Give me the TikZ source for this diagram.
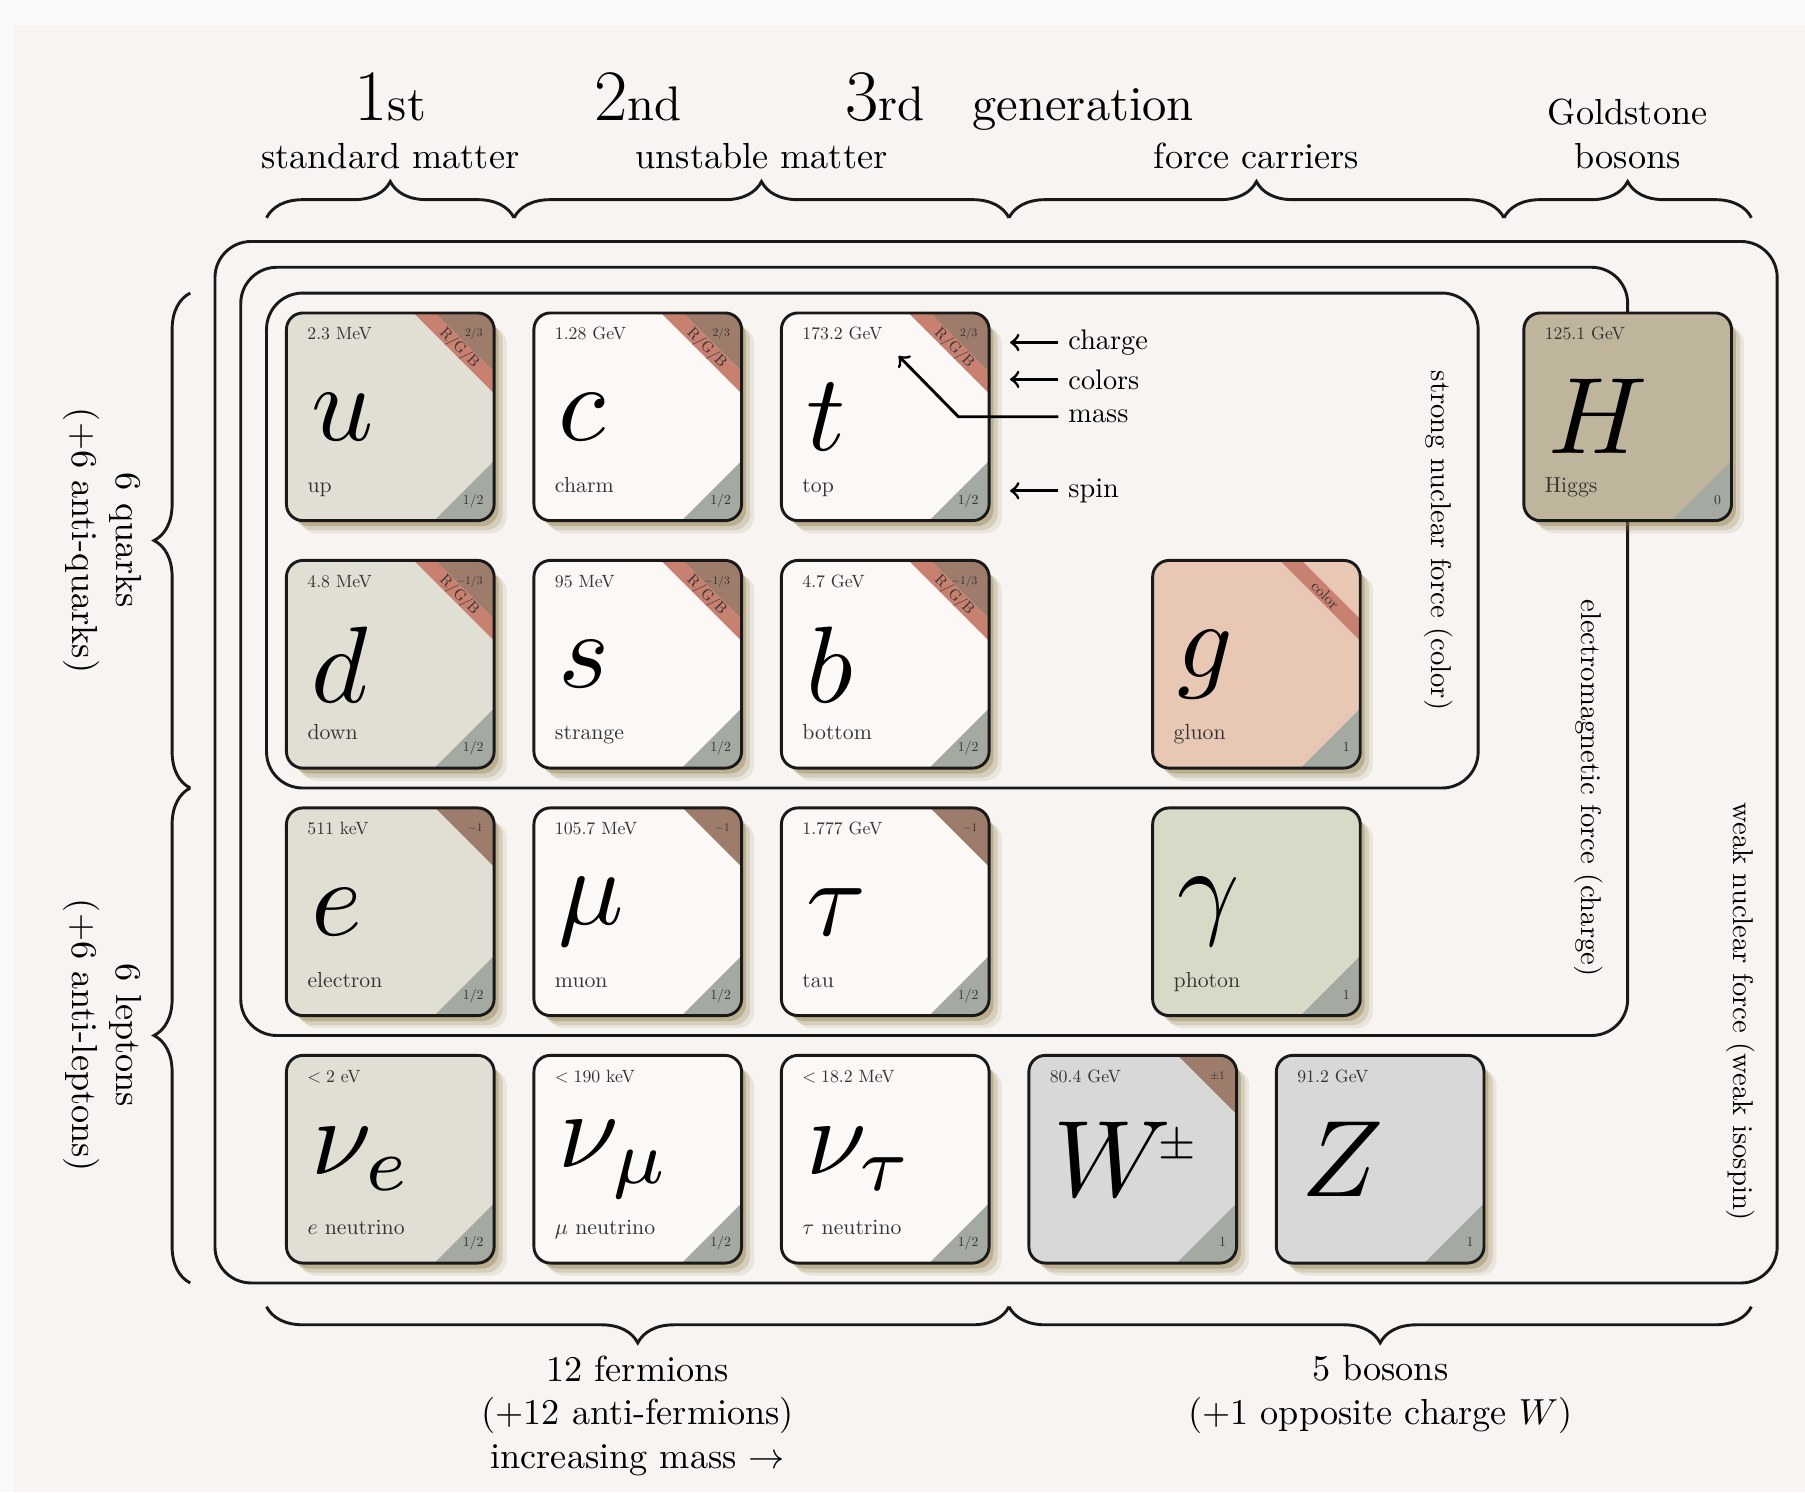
\documentclass[tikz,border=0pt]{standalone}
\usepackage{amsmath,amssymb,graphicx}
\usetikzlibrary{calc,shadows,decorations.pathreplacing}
\definecolor{pagebg}{RGB}{251,249,247}
\definecolor{picbg}{RGB}{247,244,242}
\definecolor{genone}{RGB}{225,222,212}
\definecolor{genrest}{RGB}{251,248,246}
\definecolor{gluoncol}{RGB}{232,200,180}
\definecolor{photoncol}{RGB}{216,218,200}
\definecolor{weakcol}{RGB}{216,216,216}
\definecolor{higgscol}{RGB}{191,180,156}
\definecolor{chargecol}{RGB}{157,124,108}
\definecolor{colorcol}{RGB}{200,128,112}
\definecolor{spincol}{RGB}{164,170,162}
\definecolor{shadowcol}{RGB}{140,118,64}
\newcommand{\gennum}[1]{{\fontsize{20}{24}\selectfont #1}}
\newcommand{\genord}[1]{\scalebox{1.34}{\normalsize #1}}
\tikzset{
  card/.style={rectangle,minimum size=2cm,inner sep=0pt,rounded corners=1.6mm,
    general shadow={fill=shadowcol,opacity=0.12,shadow xshift=1.3mm,shadow yshift=-1.3mm},
    general shadow={fill=shadowcol,opacity=0.2,shadow xshift=0.9mm,shadow yshift=-1mm},
    general shadow={fill=shadowcol,opacity=0.35,shadow xshift=0.5mm,shadow yshift=-0.6mm}},
  cardedge/.style={draw=black!90,line width=0.8pt,rounded corners=1.6mm},
  masslab/.style={anchor=base west,inner sep=0pt,scale=0.49,text=black!80},
  namelab/.style={anchor=base west,inner sep=0pt,scale=0.6,text=black!80},
  spinlab/.style={anchor=base east,inner sep=0pt,scale=0.38,text=black!80},
  chargelab/.style={anchor=base east,inner sep=0pt,scale=0.32,text=black!80},
  colorlab/.style={inner sep=0pt,rotate=-45,scale=0.42,text=black!80},
  symb/.style={anchor=west,inner sep=0pt,scale=3},
  forcebox/.style={draw=black!90,line width=0.8pt,rounded corners=3.5mm},
  brc/.style={decorate,decoration={brace,amplitude=10pt},draw=black!90,line width=0.8pt},
  lab/.style={align=center},
  forcelab/.style={rotate=-90,scale=0.79},
  note/.style={anchor=west,scale=0.78},
  gen/.style={anchor=base,inner sep=0pt},
}
\newcommand{\particle}[8]{%
  \node[card,fill=#4] (#1) at (#2,#3) {};
  \begin{scope}
    \clip[rounded corners=1.6mm] (#1.south west) rectangle (#1.north east);
    \fill[spincol] (#1.south east) -- ++(-0.58,0) -- ++(0.58,0.58) -- cycle;
  \end{scope}
  \node[masslab] (#1-mass) at ($(#1.north west)+(0.2,-0.26)$) {#5};
  \node[symb] (#1-sym) at ($(#1.west)+(0.22,0)$) {$#6$};
  \node[namelab] (#1-name) at ($(#1.south west)+(0.2,0.275)$) {#7};
  \node[spinlab] (#1-spin) at ($(#1.south east)+(-0.1,0.16)$) {#8};
}
\newcommand{\chargecorner}[2]{%
  \begin{scope}
    \clip[rounded corners=1.6mm] (#1.south west) rectangle (#1.north east);
    \fill[chargecol] (#1.north east) -- ++(-0.57,0) -- ++(0.57,-0.57) -- cycle;
  \end{scope}
  \node[chargelab] (#1-charge) at ($(#1.north east)+(-0.11,-0.23)$) {#2};
}
\newcommand{\colorband}[2]{%
  \begin{scope}
    \clip[rounded corners=1.6mm] (#1.south west) rectangle (#1.north east);
    \fill[colorcol] ($(#1.north east)+(-0.78,0)$) -- ++(0.21,0) -- ++(0.57,-0.57) -- ++(0,-0.21) -- cycle;
  \end{scope}
  \node[colorlab] (#1-colors) at ($(#1.north east)+(-0.34,-0.34)$) {#2};
}

\begin{document}
\begin{tikzpicture}
  \fill[pagebg] (-3.785,4.042) rectangle (13.72,-10.43);
  \useasboundingbox (-3.785,4.042) rectangle (13.72,-10.43);
  \fill[picbg] (-3.65,3.80) rectangle (13.72,-10.43);

  \draw[forcebox] (-1.7,1.7) rectangle (13.45,-8.4);
  \draw[forcebox] (-1.45,1.45) rectangle (12,-6);
  \draw[forcebox] (-1.2,1.2) rectangle (10.55,-3.6);

  \draw[brc] (-1.2,1.93) -- (1.2,1.93);
  \draw[brc] (1.2,1.93) -- (6.0,1.93);
  \draw[brc] (6.0,1.93) -- (10.8,1.93);
  \draw[brc] (10.8,1.93) -- (13.2,1.93);
  \draw[brc] (-1.94,-3.6) -- (-1.94,1.2);
  \draw[brc] (-1.94,-8.4) -- (-1.94,-3.6);
  \draw[brc] (6.0,-8.63) -- (-1.2,-8.63);
  \draw[brc] (13.2,-8.63) -- (6.0,-8.63);

  \node[gen] (gen-1) at (0,2.87) {\gennum{1}\genord{st}};
  \node[gen] (gen-2) at (2.4,2.87) {\gennum{2}\genord{nd}};
  \node[gen] (gen-3) at (4.8,2.87) {\gennum{3}\genord{rd}};
  \node[gen,anchor=base west] (gen-word) at (5.64,2.87) {\genord{generation}};

  \node[lab,anchor=south] (std-lab) at (0,2.28) {standard matter};
  \node[lab,anchor=south] (unst-lab) at (3.6,2.28) {unstable matter};
  \node[lab,anchor=south] (force-lab) at (8.4,2.28) {force carriers};
  \node[lab,anchor=south] (gold-lab) at (12,2.28) {Goldstone\\bosons};
  \node[lab,rotate=-90,anchor=north] (quark-lab) at (-2.29,-1.2) {6 quarks\\(+6 anti-quarks)};
  \node[lab,rotate=-90,anchor=north] (lepton-lab) at (-2.29,-6.0) {6 leptons\\(+6 anti-leptons)};
  \node[lab,anchor=north] (ferm-lab) at (2.4,-8.98) {12 fermions\\(+12 anti-fermions)\\increasing mass $\to$};
  \node[lab,anchor=north] (boson-lab) at (9.6,-8.98) {5 bosons\\(+1 opposite charge $W$)};

  \node[forcelab] (strong-lab) at (10.17,-1.2) {strong nuclear force (color)};
  \node[forcelab] (em-lab) at (11.62,-3.6) {electromagnetic force (charge)};
  \node[forcelab] (weak-lab) at (13.1,-5.77) {weak nuclear force (weak isospin)};

  \particle{u}{0}{0}{genone}{2.3 MeV}{u}{up}{1/2}
  \chargecorner{u}{2/3}
  \colorband{u}{R/G/B}
  \particle{c}{2.4}{0}{genrest}{1.28 GeV}{c}{charm}{1/2}
  \chargecorner{c}{2/3}
  \colorband{c}{R/G/B}
  \particle{t}{4.8}{0}{genrest}{173.2 GeV}{t}{top}{1/2}
  \chargecorner{t}{2/3}
  \colorband{t}{R/G/B}
  \particle{H}{12}{0}{higgscol}{125.1 GeV}{H}{Higgs}{0}

  \particle{d}{0}{-2.4}{genone}{4.8 MeV}{d}{down}{1/2}
  \chargecorner{d}{$-1/3$}
  \colorband{d}{R/G/B}
  \particle{s}{2.4}{-2.4}{genrest}{95 MeV}{s}{strange}{1/2}
  \chargecorner{s}{$-1/3$}
  \colorband{s}{R/G/B}
  \particle{b}{4.8}{-2.4}{genrest}{4.7 GeV}{b}{bottom}{1/2}
  \chargecorner{b}{$-1/3$}
  \colorband{b}{R/G/B}
  \particle{g}{8.4}{-2.4}{gluoncol}{}{g}{gluon}{1}
  \colorband{g}{color}

  \particle{e}{0}{-4.8}{genone}{511 keV}{e}{electron}{1/2}
  \chargecorner{e}{$-1$}
  \particle{mu}{2.4}{-4.8}{genrest}{105.7 MeV}{\mu}{muon}{1/2}
  \chargecorner{mu}{$-1$}
  \particle{tau}{4.8}{-4.8}{genrest}{1.777 GeV}{\tau}{tau}{1/2}
  \chargecorner{tau}{$-1$}
  \particle{gamma}{8.4}{-4.8}{photoncol}{}{\gamma}{photon}{1}

  \particle{nue}{0}{-7.2}{genone}{$<2$ eV}{\nu_e}{$e$ neutrino}{1/2}
  \particle{numu}{2.4}{-7.2}{genrest}{$<190$ keV}{\nu_\mu}{$\mu$ neutrino}{1/2}
  \particle{nutau}{4.8}{-7.2}{genrest}{$<18.2$ MeV}{\nu_\tau}{$\tau$ neutrino}{1/2}
  \particle{W}{7.2}{-7.2}{weakcol}{80.4 GeV}{W^{\!\scalebox{0.7}{$\scriptscriptstyle\pm$}}}{}{1}
  \chargecorner{W}{$\pm1$}
  \particle{Z}{9.6}{-7.2}{weakcol}{91.2 GeV}{Z}{}{1}

  \foreach \p in {u,c,t,H,d,s,b,g,e,mu,tau,gamma,nue,numu,nutau,W,Z}
    \draw[cardedge] (\p.south west) rectangle (\p.north east);

  \node[note] (charge-note) at (6.48,0.72) {charge};
  \node[note] (colors-note) at (6.48,0.363) {colors};
  \node[note] (mass-note) at (6.48,0) {mass};
  \node[note] (spin-note) at (6.48,-0.718) {spin};
  \coordinate (charge-tip) at (6.01,0.72);
  \coordinate (colors-tip) at (6.01,0.363);
  \coordinate (spin-tip) at (6.01,-0.718);
  \coordinate (mass-bend) at (5.51,0);
  \coordinate (mass-tip) at (4.93,0.59);
  \draw[->,thick] (charge-note.west) -- (charge-tip);
  \draw[->,thick] (colors-note.west) -- (colors-tip);
  \draw[->,thick] (spin-note.west) -- (spin-tip);
  \draw[->,thick] (mass-note.west) -- (mass-bend) -- (mass-tip);
\end{tikzpicture}
\end{document}
